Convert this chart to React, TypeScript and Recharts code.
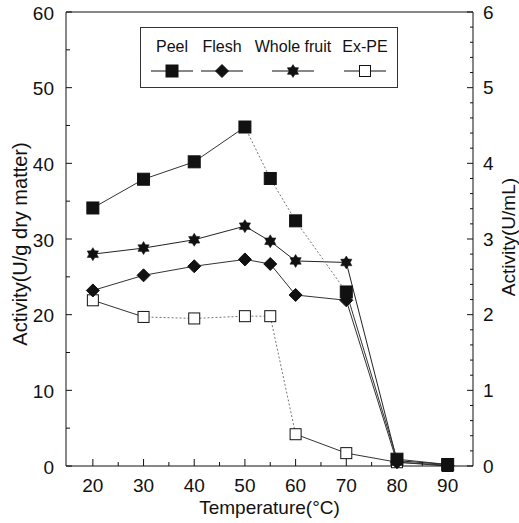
import React from "react";
import { LineChart, Line, XAxis, YAxis, Legend, ReferenceLine } from "recharts";

const temps = [20, 30, 40, 50, 55, 60, 70, 80, 90];
const peel = [34.1, 37.9, 40.2, 44.8, 38.0, 32.4, 23.0, 0.9, 0.2];
const flesh = [23.2, 25.2, 26.4, 27.3, 26.7, 22.6, 21.9, 0.5, 0.1];
const wholeFruit = [28.0, 28.8, 29.9, 31.7, 29.7, 27.1, 26.9, 0.7, 0.2];
const exPE = [2.19, 1.97, 1.95, 1.98, 1.98, 0.42, 0.17, 0.05, 0.0];

const seriesNames = ["Peel", "Flesh", "Whole fruit", "Ex-PE"];
const xTicks = [20, 25, 30, 35, 40, 45, 50, 55, 60, 65, 70, 75, 80, 85, 90];
const leftTicks = [0, 5, 10, 15, 20, 25, 30, 35, 40, 45, 50, 55, 60];
const rightTicks = [
  0, 0.2, 0.4, 0.6, 0.8, 1, 1.2, 1.4, 1.6, 1.8, 2, 2.2, 2.4, 2.6, 2.8, 3,
  3.2, 3.4, 3.6, 3.8, 4, 4.2, 4.4, 4.6, 4.8, 5, 5.2, 5.4, 5.6, 5.8, 6,
];

// which temperature ranges of a line are drawn with a faint dotted stroke
const peelDottedRange = [50, 70];
const exPEDottedRange = [30, 60];

const part = (vals: number[], i: number, lo: number, hi: number) =>
  temps[i] >= lo && temps[i] <= hi ? vals[i] : null;

const data = temps.map((t, i) => ({
  t,
  peel: peel[i],
  peelA: part(peel, i, -Infinity, peelDottedRange[0]),
  peelB: part(peel, i, peelDottedRange[0], peelDottedRange[1]),
  peelC: part(peel, i, peelDottedRange[1], Infinity),
  flesh: flesh[i],
  whole: wholeFruit[i],
  expe: exPE[i],
  expeA: part(exPE, i, -Infinity, exPEDottedRange[0]),
  expeB: part(exPE, i, exPEDottedRange[0], exPEDottedRange[1]),
  expeC: part(exPE, i, exPEDottedRange[1], Infinity),
}));

const FONT = "'Liberation Sans', Arial, Helvetica, sans-serif";
const INK = "#111";

const SquareMark = ({ cx, cy, filled, s }: any) => (
  <rect x={cx - s / 2} y={cy - s / 2} width={s} height={s} fill={filled ? INK : "#fff"} stroke={INK} strokeWidth={1} />
);
const DiamondMark = ({ cx, cy, r }: any) => (
  <polygon points={`${cx},${cy - r} ${cx + r},${cy} ${cx},${cy + r} ${cx - r},${cy}`} fill={INK} stroke={INK} />
);
const StarMark = ({ cx, cy, r }: any) => {
  const pts: string[] = [];
  for (let k = 0; k < 12; k++) {
    const a = (Math.PI / 6) * k - Math.PI / 2;
    const rr = k % 2 === 0 ? r : r * 0.6;
    pts.push(`${cx + rr * Math.cos(a)},${cy + rr * Math.sin(a)}`);
  }
  return <polygon points={pts.join(" ")} fill={INK} stroke={INK} strokeWidth={0.5} />;
};

const mk = (kind: string) => (p: any) => {
  const { cx, cy, index } = p;
  if (cx == null || cy == null) return <g key={`${kind}-${index}`} />;
  let el: any = null;
  if (kind === "peel") el = <SquareMark cx={cx} cy={cy} s={12} filled />;
  else if (kind === "flesh") el = <DiamondMark cx={cx} cy={cy} r={6.5} />;
  else if (kind === "whole") el = <StarMark cx={cx} cy={cy} r={6.5} />;
  else el = <SquareMark cx={cx} cy={cy} s={11} filled={false} />;
  return <g key={`${kind}-${index}`}>{el}</g>;
};

const LeftTick = ({ x, y, payload }: any) => {
  const v = payload.value;
  const major = v % 10 === 0;
  return (
    <g>
      <line x1={x} y1={y} x2={x + (major ? 6 : 4)} y2={y} stroke={INK} />
      {major && (
        <text x={x - 12} y={y + 1} dy="0.35em" textAnchor="end" fontSize={19} fontFamily={FONT} fill={INK}>
          {v}
        </text>
      )}
    </g>
  );
};

const RightTick = ({ x, y, payload }: any) => {
  const v = payload.value;
  const major = Math.abs(v - Math.round(v)) < 1e-6;
  return (
    <g>
      <line x1={x} y1={y} x2={x - (major ? 6 : 3)} y2={y} stroke={INK} />
      {major && (
        <text x={x + 10} y={y} dy="0.35em" textAnchor="start" fontSize={19} fontFamily={FONT} fill={INK}>
          {Math.round(v)}
        </text>
      )}
    </g>
  );
};

const BottomTick = ({ x, y, payload }: any) => {
  const v = payload.value;
  const major = v % 10 === 0;
  return (
    <g>
      <line x1={x} y1={y} x2={x} y2={y - (major ? 7 : 4)} stroke={INK} />
      {major && (
        <text x={x} y={y + 19} dy="0.35em" textAnchor="middle" fontSize={19} fontFamily={FONT} fill={INK}>
          {v}
        </text>
      )}
    </g>
  );
};

const LegendBox = () => {
  const items = [
    { name: seriesNames[0], cx: 32, kind: "peel" },
    { name: seriesNames[1], cx: 82, kind: "flesh" },
    { name: seriesNames[2], cx: 153, kind: "whole" },
    { name: seriesNames[3], cx: 225, kind: "expe" },
  ];
  return (
    <svg width={258} height={61} style={{ display: "block", overflow: "visible" }}>
      <rect x={0.5} y={0.5} width={257} height={60} fill="#fff" stroke="#333" strokeWidth={1} />
      {items.map((it) => (
        <g key={it.name}>
          <text x={it.cx} y={25} textAnchor="middle" fontSize={16} fontFamily={FONT} fill={INK}>
            {it.name}
          </text>
          <line x1={it.cx - 21} y1={44} x2={it.cx + 21} y2={44} stroke={INK} strokeWidth={1} />
          {mk(it.kind)({ cx: it.cx, cy: 44, index: "legend" })}
        </g>
      ))}
    </svg>
  );
};

const solid = { stroke: "#333", strokeWidth: 1, dot: false, activeDot: false, connectNulls: false, isAnimationActive: false, legendType: "none" as const };
const dotted = { ...solid, stroke: "#777", strokeDasharray: "2 2" };
const marksOnly = { stroke: "none", strokeWidth: 0, activeDot: false, isAnimationActive: false };

export default function App() {
  return (
    <div style={{ position: "absolute", left: 0, top: 0, width: 519, height: 523, background: "#fff" }}>
      <LineChart
        width={519}
        height={523}
        data={data}
        margin={{ top: 12, right: 6, bottom: 17, left: 16 }}
        style={{ fontFamily: FONT }}
      >
        <XAxis
          dataKey="t"
          type="number"
          domain={[14.7, 95]}
          ticks={xTicks}
          interval={0}
          height={40}
          tickLine={false}
          tickSize={0}
          tickMargin={0}
          axisLine={{ stroke: INK }}
          tick={<BottomTick />}
          label={{
            content: ({ viewBox }: any) => (
              <text
                x={viewBox.x + viewBox.width / 2}
                y={viewBox.y + 41}
                textAnchor="middle"
                dominantBaseline="central"
                fontSize={19}
                fontFamily={FONT}
                fill={INK}
              >
                Temperature(°C)
              </text>
            ),
          }}
        />
        <YAxis
          yAxisId="left"
          orientation="left"
          type="number"
          domain={[0, 60]}
          ticks={leftTicks}
          interval={0}
          width={50}
          tickLine={false}
          tickSize={0}
          tickMargin={0}
          axisLine={{ stroke: INK }}
          tick={<LeftTick />}
          label={{
            content: ({ viewBox }: any) => {
              const cx = viewBox.x + 4;
              const cy = viewBox.y + viewBox.height / 2 + 5;
              return (
                <text
                  x={cx}
                  y={cy}
                  transform={`rotate(-90 ${cx} ${cy})`}
                  textAnchor="middle"
                  dominantBaseline="central"
                  fontSize={20}
                  fontFamily={FONT}
                  fill={INK}
                >
                  Activity(U/g dry matter)
                </text>
              );
            },
          }}
        />
        <YAxis
          yAxisId="right"
          orientation="right"
          type="number"
          domain={[0, 6]}
          ticks={rightTicks}
          interval={0}
          width={40}
          tickLine={false}
          tickSize={0}
          tickMargin={0}
          axisLine={{ stroke: INK }}
          tick={<RightTick />}
          label={{
            content: ({ viewBox }: any) => {
              const cx = viewBox.x + 35;
              const cy = viewBox.y + viewBox.height / 2 - 2;
              return (
                <text
                  x={cx}
                  y={cy}
                  transform={`rotate(-90 ${cx} ${cy})`}
                  textAnchor="middle"
                  dominantBaseline="central"
                  fontSize={19}
                  fontFamily={FONT}
                  fill={INK}
                >
                  Activity(U/mL)
                </text>
              );
            },
          }}
        />
        <ReferenceLine yAxisId="left" y={60} stroke={INK} ifOverflow="visible" />
        <Legend
          layout="horizontal"
          verticalAlign="middle"
          align="center"
          content={() => <LegendBox />}
          wrapperStyle={{ position: "absolute", left: 140, top: 27, width: 258, height: 61 }}
        />
        <Line yAxisId="right" dataKey="expeA" {...solid} />
        <Line yAxisId="right" dataKey="expeB" {...dotted} />
        <Line yAxisId="right" dataKey="expeC" {...solid} />
        <Line yAxisId="left" dataKey="flesh" {...solid} />
        <Line yAxisId="left" dataKey="whole" {...solid} stroke="#222" />
        <Line yAxisId="left" dataKey="peelA" {...solid} />
        <Line yAxisId="left" dataKey="peelB" {...dotted} />
        <Line yAxisId="left" dataKey="peelC" {...solid} />
        <Line yAxisId="right" dataKey="expe" name="Ex-PE" {...marksOnly} dot={mk("expe")} />
        <Line yAxisId="left" dataKey="flesh" name="Flesh" {...marksOnly} dot={mk("flesh")} />
        <Line yAxisId="left" dataKey="whole" name="Whole fruit" {...marksOnly} dot={mk("whole")} />
        <Line yAxisId="left" dataKey="peel" name="Peel" {...marksOnly} dot={mk("peel")} />
      </LineChart>
    </div>
  );
}
